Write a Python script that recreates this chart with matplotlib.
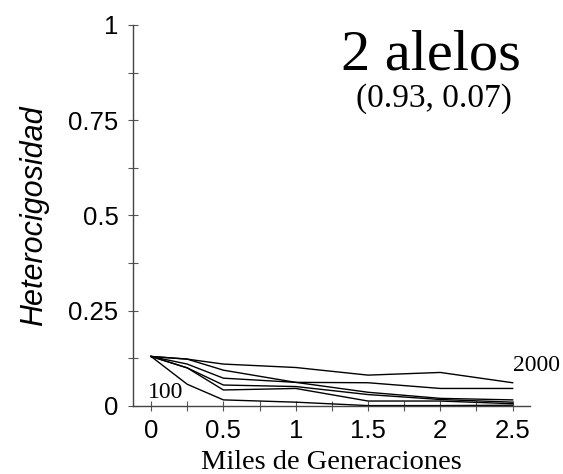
import matplotlib
matplotlib.use("Agg")
import matplotlib.pyplot as plt
from matplotlib.ticker import MultipleLocator

# miles de generaciones
gens = [0, 0.25, 0.5, 1.0, 1.5, 2.0, 2.5]

# heterocigosidad por tamaño de poblacion (de arriba a abajo)
h_2000 = [0.13, 0.123, 0.110, 0.101, 0.081, 0.088, 0.061]
h_1000 = [0.13, 0.123, 0.094, 0.062, 0.061, 0.046, 0.046]
h_500 = [0.13, 0.110, 0.073, 0.062, 0.036, 0.020, 0.016]
h_300 = [0.13, 0.100, 0.055, 0.051, 0.030, 0.017, 0.010]
h_200 = [0.13, 0.100, 0.042, 0.046, 0.013, 0.013, 0.006]
h_100 = [0.13, 0.057, 0.016, 0.010, 0.001, 0.001, 0.002]

series = [h_2000, h_1000, h_500, h_300, h_200, h_100]

fig = plt.figure(figsize=(5.63, 4.74), dpi=100)
ax = fig.add_axes([0.2362, 0.1435, 0.7052, 0.8038])

for h in series:
    ax.plot(gens, h, color="black", lw=1.0, solid_joinstyle="miter")

ax.set_xlim(-0.125, 2.62)
ax.set_ylim(0, 1)

for s in ["top", "right"]:
    ax.spines[s].set_visible(False)
for s in ["left", "bottom"]:
    ax.spines[s].set_color("#444444")
    ax.spines[s].set_linewidth(1.0)

ax.xaxis.set_minor_locator(MultipleLocator(0.25))
ax.yaxis.set_minor_locator(MultipleLocator(0.125))
ax.set_xticks([0, 0.5, 1, 1.5, 2, 2.5])
ax.set_xticklabels(["0", "0.5", "1", "1.5", "2", "2.5"])
ax.set_yticks([0, 0.25, 0.5, 0.75, 1])
ax.set_yticklabels(["0", "0.25", "0.5", "0.75", "1"])

ax.tick_params(which="both", direction="inout", length=7, width=0.8,
               color="#555555", labelsize=18.5)
ax.tick_params(axis="x", pad=6)
ax.tick_params(axis="y", pad=7)
for lab in ax.get_xticklabels() + ax.get_yticklabels():
    lab.set_fontfamily("Liberation Sans")

ax.set_xlabel("Miles de Generaciones", fontfamily="Liberation Serif",
              fontsize=20.5, labelpad=5)
ax.set_ylabel("Heterocigosidad", fontfamily="Liberation Sans",
              fontstyle="italic", fontsize=22, labelpad=14)

ax.text(1.934, 0.882, "2 alelos", fontfamily="Liberation Serif", fontsize=42,
        ha="center", va="baseline")
ax.text(1.954, 0.785, "(0.93, 0.07)", fontfamily="Liberation Serif", fontsize=24,
        ha="center", va="baseline")
ax.text(-0.02, 0.021, "100", fontfamily="Liberation Serif", fontsize=17,
        ha="left", va="baseline")
ax.text(2.50, 0.093, "2000", fontfamily="Liberation Serif", fontsize=17,
        ha="left", va="baseline", clip_on=False)

fig.savefig("out.png", dpi=100)
